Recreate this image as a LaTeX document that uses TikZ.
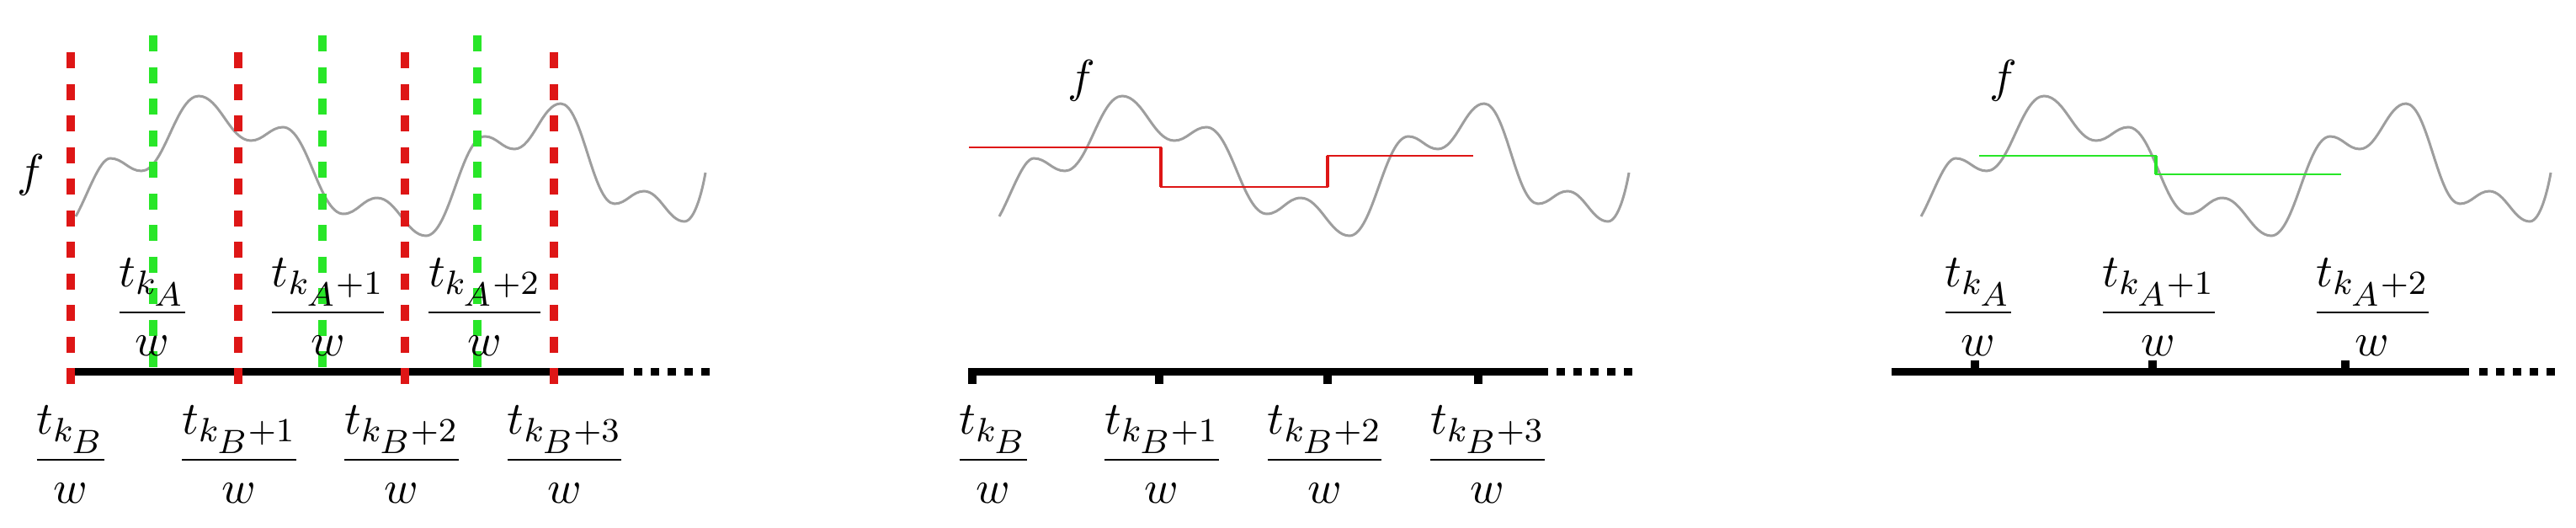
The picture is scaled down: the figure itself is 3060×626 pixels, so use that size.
\documentclass[tikz,border=0pt]{standalone}
\usepackage{amsmath}
\definecolor{myred}{RGB}{222,22,22}
\definecolor{mygreen}{RGB}{40,230,40}
\definecolor{curvegray}{RGB}{158,158,158}
\newcommand{\tlab}[2]{$\displaystyle\frac{t_{k_{\scriptstyle #1}#2}}{w}$}
\tikzset{
  curve/.style={draw=curvegray,line width=0.6pt},
  axisline/.style={line width=1.9pt},
  dotline/.style={line width=1.9pt,dash pattern=on 2pt off 2pt},
  tickmark/.style={line width=1.9pt},
  reddash/.style={draw=myred,line width=2pt,dash pattern=on 3.85pt off 3.65pt},
  greendash/.style={draw=mygreen,line width=2pt,dash pattern=on 3.85pt off 3.65pt},
  redstep/.style={draw=myred,line width=0.45pt},
  greenstep/.style={draw=mygreen,line width=0.45pt},
  redrise/.style={draw=myred,line width=0.9pt},
  greenrise/.style={draw=mygreen,line width=0.9pt},
  lab/.style={font=\fontsize{11}{13}\selectfont,inner sep=0pt,anchor=base},
  flab/.style={font=\fontsize{11}{13}\selectfont,inner sep=0pt},
  fcurve/.pic={
    \draw[curve] (90,257) .. controls (104,232) and (118,188) .. (131,188)
      .. controls (146,188) and (153,203) .. (168,203)
      .. controls (195,203) and (209,114) .. (236,114)
      .. controls (261,114) and (273,167) .. (298,167)
      .. controls (313,167) and (321,151) .. (336,151)
      .. controls (365,151) and (379,254) .. (408,254)
      .. controls (424,254) and (432,235) .. (448,235)
      .. controls (471,235) and (483,280) .. (506,280)
      .. controls (534,280) and (548,162) .. (576,162)
      .. controls (590,162) and (597,177) .. (611,177)
      .. controls (633,177) and (644,123) .. (666,123)
      .. controls (692,123) and (704,242) .. (730,242)
      .. controls (744,242) and (751,227) .. (765,227)
      .. controls (784,227) and (794,263) .. (813,263)
      .. controls (825,263) and (834,228) .. (838,205);
  }
}
\begin{document}
\begin{tikzpicture}[x=0.2pt,y=-0.2pt]
\useasboundingbox (0,0) rectangle (3060,626);

% ---------- panel 1 ----------
\pic at (0,0) {fcurve};
\draw[axisline] (84,441.5) -- (741,441.5);
\draw[dotline] (753,441.5) -- (843,441.5);
\foreach \gx in {182,383,567}{\draw[greendash] (\gx,42) -- (\gx,438);}
\foreach \rx in {84,283,481,658}{\draw[reddash] (\rx,62) -- (\rx,456);}
\node[flab] (f1) at (37,208) {$f$};
\node[lab] (a1) at (181,384.75) {\tlab{A}{}};
\node[lab] (a2) at (389.5,384.75) {\tlab{A}{+1}};
\node[lab] (a3) at (575.6,384.75) {\tlab{A}{+2}};
\node[lab] (b1) at (84,559.75) {\tlab{B}{}};
\node[lab] (b2) at (284,559.75) {\tlab{B}{+1}};
\node[lab] (b3) at (477,559.75) {\tlab{B}{+2}};
\node[lab] (b4) at (670.5,559.75) {\tlab{B}{+3}};

% ---------- panel 2 ----------
\pic at (1097,0) {fcurve};
\draw[axisline] (1150,441.5) -- (1839,441.5);
\draw[dotline] (1849,441.5) -- (1939,441.5);
\foreach \tx in {1155,1377,1577,1756}{\draw[tickmark] (\tx,441.5) -- (\tx,456);}
\draw[redstep] (1151,175) -- (1379,175) -- (1379,222) -- (1577,222) -- (1577,185) -- (1750,185);
\draw[redrise] (1379,175) -- (1379,222);
\draw[redrise] (1577,222) -- (1577,185);
\node[flab] (f2) at (1285,96) {$f$};
\node[lab] (c1) at (1180,559.75) {\tlab{B}{}};
\node[lab] (c2) at (1380,559.75) {\tlab{B}{+1}};
\node[lab] (c3) at (1573.5,559.75) {\tlab{B}{+2}};
\node[lab] (c4) at (1767,559.75) {\tlab{B}{+3}};

% ---------- panel 3 ----------
\pic at (2192,0) {fcurve};
\draw[axisline] (2247,441.5) -- (2933,441.5);
\draw[dotline] (2945,441.5) -- (3035,441.5);
\foreach \tx in {2346,2557,2786}{\draw[tickmark] (\tx,441.5) -- (\tx,428);}
\draw[greenstep] (2351,185) -- (2561,185) -- (2561,207) -- (2781,207);
\draw[greenrise] (2561,185) -- (2561,207);
\node[flab] (f3) at (2380,96) {$f$};
\node[lab] (d1) at (2350,384.75) {\tlab{A}{}};
\node[lab] (d2) at (2564,384.75) {\tlab{A}{+1}};
\node[lab] (d3) at (2818,384.75) {\tlab{A}{+2}};
\end{tikzpicture}
\end{document}
